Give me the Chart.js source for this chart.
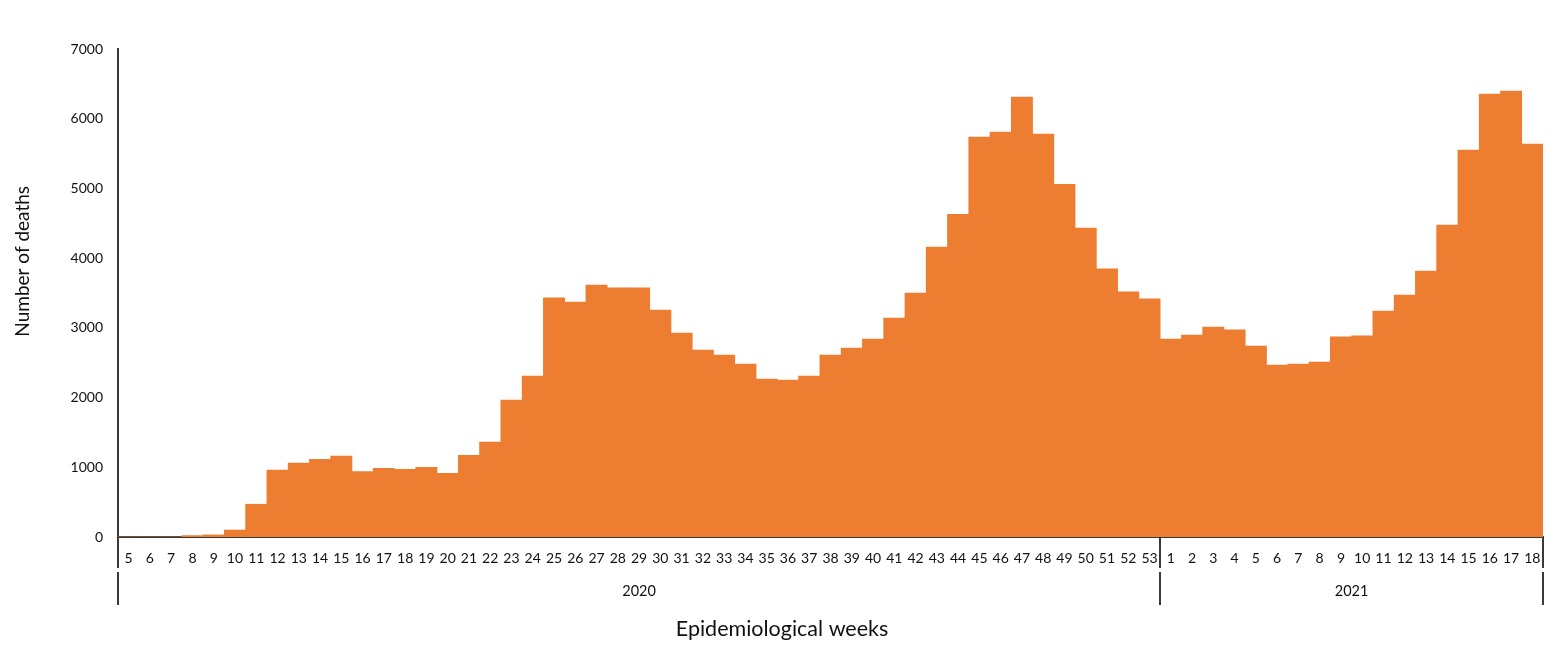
<!DOCTYPE html>
<html>
<head>
<meta charset="utf-8">
<script src="https://cdn.jsdelivr.net/npm/chart.js@4.4.1/dist/chart.umd.min.js"></script>
<style>
html,body{margin:0;padding:0;background:#fff;}
#wrap{width:1561px;height:665px;position:relative;}
</style>
</head>
<body>
<div id="wrap"><canvas id="c" width="1561" height="665"></canvas></div>
<script>
const weeks2020 = [5,6,7,8,9,10,11,12,13,14,15,16,17,18,19,20,21,22,23,24,25,26,27,28,29,30,31,32,33,34,35,36,37,38,39,40,41,42,43,44,45,46,47,48,49,50,51,52,53];
const weeks2021 = [1,2,3,4,5,6,7,8,9,10,11,12,13,14,15,16,17,18];
const deaths2020 = [0,0,0,20,30,100,470,960,1060,1115,1160,940,985,970,1000,915,1170,1360,1965,2310,3430,3370,3615,3575,3575,3255,2925,2680,2610,2480,2265,2250,2310,2610,2710,2840,3140,3500,4160,4630,5735,5810,6310,5780,5060,4430,3845,3515,3415];
const deaths2021 = [2840,2895,3010,2970,2740,2465,2480,2510,2870,2885,3240,3470,3815,4475,5550,6355,6395,5635];
const years = ['2020','2021'];
const yTicks = [0,1000,2000,3000,4000,5000,6000,7000];
const yTitle = 'Number of deaths';
const xTitle = 'Epidemiological weeks';

const labels = weeks2020.map(String).concat(weeks2021.map(String));
const values = deaths2020.concat(deaths2021);
const groups = [weeks2020.length, weeks2021.length];

const FONT = 'Lato, "Open Sans", sans-serif';
const TXT = '#111';
const LINE = '#3a3a3a';

const groupPlugin = {
  id: 'groups',
  afterDraw(chart) {
    const ctx = chart.ctx;
    const x = chart.scales.x;
    const area = chart.chartArea;
    const n = labels.length;
    const edge = i => {
      if (i <= 0) return x.left;
      if (i >= n) return x.right;
      return (x.getPixelForValue(i - 1) + x.getPixelForValue(i)) / 2;
    };
    const b = [0];
    groups.forEach(g => b.push(b[b.length - 1] + g));
    ctx.save();
    ctx.strokeStyle = LINE;
    ctx.lineWidth = 2;
    b.forEach(i => {
      const px = Math.round(edge(i));
      ctx.beginPath();
      ctx.moveTo(px, area.bottom);
      ctx.lineTo(px, area.bottom + 31);
      ctx.moveTo(px, area.bottom + 35);
      ctx.lineTo(px, area.bottom + 68);
      ctx.stroke();
    });
    ctx.fillStyle = TXT;
    ctx.font = '14.5px ' + FONT;
    ctx.textAlign = 'center';
    ctx.textBaseline = 'middle';
    years.forEach((yr, k) => {
      const cx = (edge(b[k]) + edge(b[k + 1])) / 2;
      ctx.fillText(yr, cx, area.bottom + 54);
    });
    // x axis title
    ctx.font = '21.5px ' + FONT;
    ctx.fillText(xTitle, area.left + (area.right - area.left) * 0.466, area.bottom + 92);
    // y axis title
    ctx.translate(23, area.top + (area.bottom - area.top) * 0.435);
    ctx.rotate(-Math.PI / 2);
    ctx.font = '19px ' + FONT;
    ctx.fillText(yTitle, 0, 0);
    ctx.restore();
  }
};

new Chart(document.getElementById('c'), {
  type: 'bar',
  data: {
    labels: labels,
    datasets: [{
      data: values,
      backgroundColor: '#ED7D31',
      borderWidth: 0,
      categoryPercentage: 1.0,
      barPercentage: 1.0
    }]
  },
  options: {
    responsive: false,
    animation: false,
    devicePixelRatio: 1,
    layout: { padding: { top: 49, right: 18, bottom: 0, left: 0 } },
    plugins: { legend: { display: false }, tooltip: { enabled: false } },
    scales: {
      x: {
        grid: { display: false, drawTicks: false },
        border: { display: true, color: LINE, width: 2 },
        ticks: { color: TXT, font: { family: FONT, size: 14 }, padding: 13, autoSkip: false, maxRotation: 0, minRotation: 0 },
        afterFit(s) { s.height = 128; }
      },
      y: {
        min: 0, max: 7000,
        afterBuildTicks(s) { s.ticks = yTicks.map(v => ({ value: v })); },
        grid: { display: false, drawTicks: false },
        border: { display: true, color: LINE, width: 2 },
        ticks: { color: TXT, font: { family: FONT, size: 14 }, padding: 15, callback: v => String(v) },
        afterFit(s) { s.width = 118; }
      }
    }
  },
  plugins: [groupPlugin]
});
</script>
</body>
</html>
